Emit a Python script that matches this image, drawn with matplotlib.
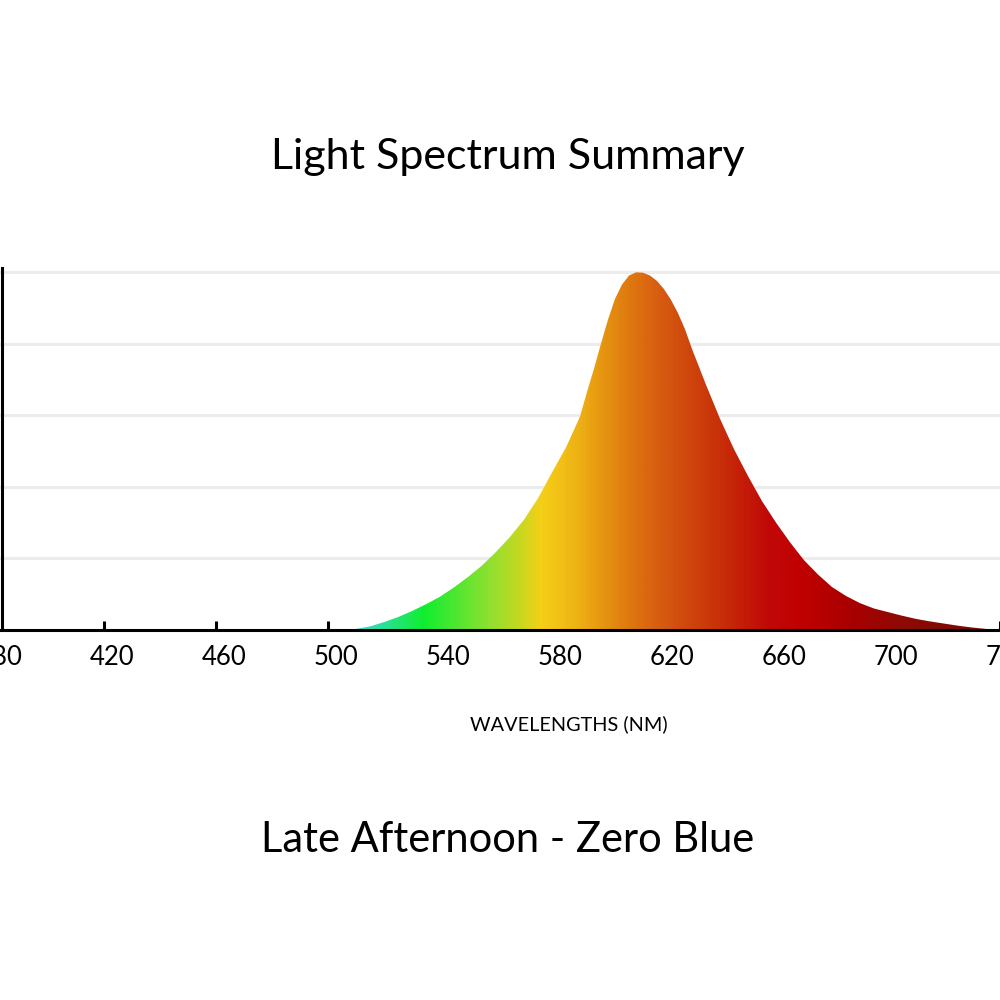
import numpy as np
import matplotlib.pyplot as plt
from matplotlib.colors import LinearSegmentedColormap
from matplotlib.transforms import ScaledTranslation

FIG_SIZE = (10, 10)
plt.rcParams['font.family'] = ['Lato', 'DejaVu Sans']

# relative intensity (denser around the peak)
wavelengths = [505, 510, 515, 520, 525, 530, 535, 540, 545, 550,
               555, 560, 565, 570, 575, 580, 585, 590, 592.5, 595,
               597.5, 600, 602.5, 605, 607.5, 610, 612.5, 615, 617.5, 620,
               622.5, 625, 627.5, 630, 635, 640, 645, 650,
               655, 660, 665, 670, 675, 680, 685, 690, 695, 700,
               705, 710, 715, 720, 725, 730, 735, 740]
intensity = [0.0, 0.003, 0.01, 0.022, 0.036, 0.053, 0.072, 0.093, 0.119, 0.148,
             0.18, 0.218, 0.26, 0.308, 0.368, 0.44, 0.51, 0.596, 0.665, 0.73,
             0.80, 0.867, 0.925, 0.965, 0.99, 0.999, 0.998, 0.99, 0.975, 0.952,
             0.922, 0.885, 0.84, 0.785, 0.685, 0.59, 0.505, 0.43,
             0.36, 0.30, 0.245, 0.195, 0.155, 0.12, 0.095, 0.075, 0.06, 0.05,
             0.04, 0.031, 0.024, 0.018, 0.012, 0.007, 0.003, 0.0]

x_ticks = [380, 420, 460, 500, 540, 580, 620, 660, 700, 740]

# spectrum colours along the x axis
stop_nm = [380, 512, 534, 558, 569, 576, 590, 600, 611, 622, 640, 658, 670, 688, 705, 729, 740]
stop_colors = ["#38d8d0", "#38d8d0", "#10ee30", "#90e030", "#c8d820", "#f5d018",
               "#eeb015", "#e49010", "#dd7010", "#d45510", "#c83008", "#c00808",
               "#c00000", "#a80000", "#900a05", "#7a0a05", "#780a05"]

title = "Light Spectrum Summary"
subtitle = "Late Afternoon - Zero Blue"
xlabel = "WAVELENGTHS (NM)"

XMIN, XMAX = 380, 740

fig = plt.figure(figsize=FIG_SIZE, dpi=100)
ax = fig.add_axes([-0.008, 0.37, 1.008, 0.3616])
ax.set_xlim(XMIN, XMAX)
ax.set_ylim(0, 1.01)

# gridlines
ax.set_yticks([0.2, 0.4, 0.6, 0.8, 1.0])
ax.yaxis.grid(True, color="#ececec", linewidth=2.2)
ax.set_axisbelow(True)
ax.tick_params(axis="y", length=0, labelleft=False)

# gradient fill clipped by the curve
pos = [(v - XMIN) / (XMAX - XMIN) for v in stop_nm]
cmap = LinearSegmentedColormap.from_list("spectrum", list(zip(pos, stop_colors)))
grad = np.linspace(XMIN, XMAX, 900).reshape(1, -1)
img = ax.imshow(grad, cmap=cmap, vmin=XMIN, vmax=XMAX, aspect="auto",
                extent=[XMIN, XMAX, 0, 1.01], origin="lower", zorder=2,
                interpolation="bilinear")
poly = ax.fill_between(wavelengths, intensity, color="none", lw=0)
img.set_clip_path(poly.get_paths()[0], transform=ax.transData)

# spines
for s in ["top", "right"]:
    ax.spines[s].set_visible(False)
ax.spines["left"].set_position(("data", 383.5))
ax.spines["left"].set_linewidth(2.2)
ax.spines["bottom"].set_linewidth(2.2)
ax.spines["left"].set_zorder(3)
ax.spines["bottom"].set_zorder(3)

ax.set_xticks(x_ticks)
ax.tick_params(axis="x", direction="in", length=6.5, width=2.2,
               labelsize=18.5, pad=11, colors="black")
# labels sit a little right of their ticks in the original
shift = ScaledTranslation(0.08, 0, fig.dpi_scale_trans)
for lab in ax.get_xticklabels():
    lab.set_transform(lab.get_transform() + shift)

fig.text(0.508, 0.843, title, ha="center", va="center", fontsize=31)
fig.text(0.569, 0.276, xlabel, ha="center", va="center", fontsize=14.3)
fig.text(0.508, 0.160, subtitle, ha="center", va="center", fontsize=30)

fig.savefig("out.png", dpi=100, facecolor="white")
